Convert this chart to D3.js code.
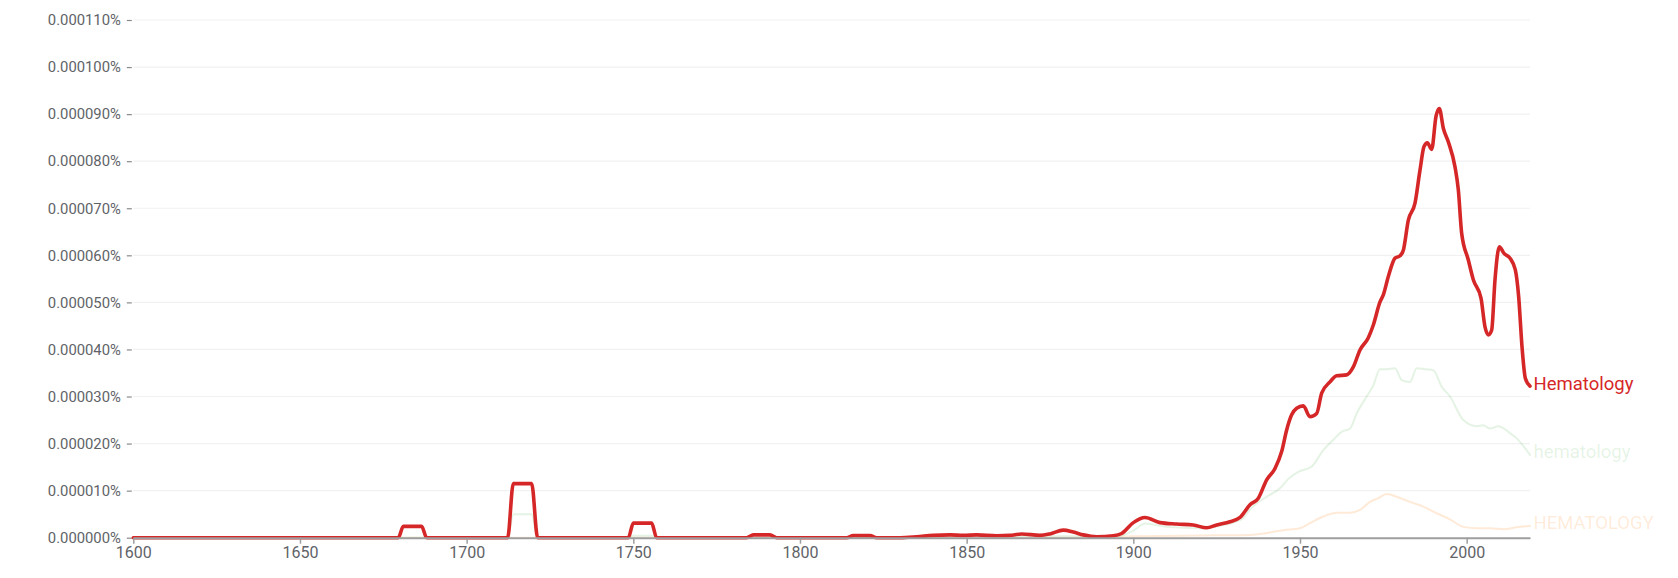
<!DOCTYPE html>
<html>
<head>
<meta charset="utf-8">
<script src="https://cdn.jsdelivr.net/npm/d3@7"></script>
<style>
  html, body { margin: 0; padding: 0; background: #fff; }
  svg { display: block; font-family: Roboto, "Noto Sans", sans-serif; }
</style>
</head>
<body>
<svg id="chart" width="1678" height="578"></svg>
<script>
// ---- Data (values in units of 0.000001 %) ----
const seriesNames = ["Hematology", "hematology", "HEMATOLOGY"];

const yearsHematologyCap = [1600,1679.5,1681,1686.5,1688,1712.3,1714,1719.5,1721.3,1748.5,1750,1755.5,1757,1784,1786,1791,1793,1814,1816,1821,1823,1830,1835,1840,1845,1849,1853,1859,1863,1866.5,1872,1875,1879,1882,1885,1889,1894,1896.5,1900,1903.5,1908,1913,1918,1922,1925,1929,1932,1935,1937.5,1940,1942.5,1944.5,1946,1947.5,1949,1951,1953,1955,1956.5,1959,1961,1964,1966,1968,1970.5,1972,1974,1975,1976.5,1978.5,1980,1981,1982.5,1984.5,1986,1987.2,1988.2,1989.5,1990.8,1991.8,1993,1994.5,1996.5,1997.5,1998.5,2000.5,2002,2004.3,2005.5,2006.5,2007.5,2008.5,2009.8,2011.2,2013,2014.6,2015.6,2016.6,2017.6,2019];
const valuesHematologyCap = [0,0,2.4,2.4,0,0,11.5,11.5,0,0,3.1,3.1,0,0,0.6,0.6,0,0,0.45,0.45,0,0,0.2,0.5,0.6,0.5,0.6,0.4,0.5,0.8,0.5,0.8,1.6,1.2,0.6,0.2,0.4,0.9,3.2,4.3,3.2,2.9,2.7,2.1,2.7,3.4,4.3,7.0,8.4,12.3,14.7,18.3,22.9,26.1,27.5,28.0,25.7,26.4,30.7,33.1,34.4,34.6,36.3,39.9,42.5,45.2,50.1,51.6,55.5,59.4,59.9,61.1,67.5,71.1,78.1,83.1,83.9,82.5,89.5,91.2,87.0,84.1,78.8,73.9,64.7,59.0,54.8,50.9,44.8,43.1,44.1,54.8,61.8,60.4,59.4,56.9,51.2,40.6,33.9,32.2];

const yearsHematologyLower = [1600,1712.3,1714,1719.5,1721.3,1748.5,1750,1755.5,1757,1830,1850,1895,1900,1903.5,1910,1920,1925,1930,1933,1935,1940,1944,1946.5,1949.5,1953.5,1957,1960,1962.5,1965,1967,1970,1972,1974,1976,1978.5,1980.5,1983,1985,1987.5,1990,1992.5,1995,1999,2003,2005,2007,2009.5,2012.5,2015,2019];
const valuesHematologyLower = [0,0,5.0,5.0,0,0,0.4,0.4,0,0,0.3,0.3,1.5,3.0,2.3,2.0,2.4,3.2,4.2,6.0,8.7,10.5,12.5,14.0,15.1,18.6,20.8,22.5,23.2,26.4,30.0,32.4,35.8,35.8,36.0,33.5,33.1,36.0,35.8,35.6,32.1,30.0,25.0,23.7,23.9,23.2,23.7,22.5,21.1,17.6];

const yearsHematologyUpper = [1600,1880,1900,1925,1935,1940,1945,1950,1953,1957,1961,1965,1968,1971,1973.5,1976,1979,1983,1987,1991,1995,1999,2003,2007,2011,2015,2019];
const valuesHematologyUpper = [0,0,0.3,0.5,0.6,1.0,1.6,2.0,3.1,4.5,5.3,5.3,5.9,7.6,8.4,9.3,8.7,7.6,6.6,5.2,3.9,2.3,2.0,2.0,1.8,2.2,2.5];

const xTickYears = [1600,1650,1700,1750,1800,1850,1900,1950,2000];
const yTickValues = [0,10,20,30,40,50,60,70,80,90,100,110];

// ---- Build ----
const svg = d3.select("#chart");
const x = d3.scaleLinear().domain([1600, 2019]).range([133.3, 1530]);
const y = d3.scaleLinear().domain([0, 110]).range([537.7, 20]);

// gridlines
svg.append("g")
  .selectAll("line")
  .data(yTickValues.slice(1))
  .join("line")
  .attr("x1", x(1600)).attr("x2", x(2019))
  .attr("y1", d => y(d)).attr("y2", d => y(d))
  .attr("stroke", "#f1f1f1").attr("stroke-width", 1.2);

// y axis
const yAxis = svg.append("g")
  .attr("transform", `translate(${x(1600) - 1.5},0)`)
  .call(d3.axisLeft(y).tickValues(yTickValues).tickSize(5).tickPadding(6)
    .tickFormat(d => d3.format(".6f")(d * 1e-6) + "%"));
yAxis.select(".domain").remove();
yAxis.selectAll(".tick line").attr("stroke", "#8a8a8a").attr("stroke-width", 1.2);
yAxis.selectAll(".tick text").attr("fill", "#5f6368").attr("font-size", "14.8px")
  .attr("font-family", "Roboto, sans-serif");

// series
const series = [
  { name: seriesNames[2], years: yearsHematologyUpper, values: valuesHematologyUpper, color: "#ff7f0e", opacity: 0.16, width: 2 },
  { name: seriesNames[1], years: yearsHematologyLower, values: valuesHematologyLower, color: "#2ca02c", opacity: 0.13, width: 2 },
  { name: seriesNames[0], years: yearsHematologyCap, values: valuesHematologyCap, color: "#d62728", opacity: 1, width: 3.6 }
];

const line = d3.line()
  .x(d => x(d[0]))
  .y(d => y(d[1]))
  .curve(d3.curveMonotoneX);

series.forEach(s => {
  const pts = s.years.map((yr, i) => [yr, s.values[i]]);
  svg.append("path")
    .datum(pts)
    .attr("fill", "none")
    .attr("stroke", s.color)
    .attr("stroke-opacity", s.opacity)
    .attr("stroke-width", s.width)
    .attr("stroke-linejoin", "round")
    .attr("stroke-linecap", "round")
    .attr("d", line);
});

// x axis
const xAxis = svg.append("g")
  .attr("transform", `translate(0,${y(0)})`)
  .call(d3.axisBottom(x).tickValues(xTickYears).tickSize(6).tickSizeOuter(0).tickPadding(3)
    .tickFormat(d3.format("d")));
xAxis.select(".domain").attr("stroke", "#9e9e9e").attr("stroke-width", 2);
xAxis.selectAll(".tick line").attr("stroke", "#9e9e9e").attr("stroke-width", 1.5);
xAxis.selectAll(".tick text").attr("fill", "#5f6368").attr("font-size", "16px")
  .attr("font-family", "Roboto, sans-serif");

// series labels
series.forEach(s => {
  const last = s.values[s.values.length - 1];
  svg.append("text")
    .attr("x", x(2019) + 3.5)
    .attr("y", y(last) - 3)
    .attr("dy", "0.35em")
    .attr("font-size", "18.5px")
    .attr("font-family", "Roboto, sans-serif")
    .attr("fill", s.color)
    .attr("fill-opacity", s.opacity === 1 ? 1 : s.opacity)
    .text(s.name);
});
</script>
</body>
</html>
